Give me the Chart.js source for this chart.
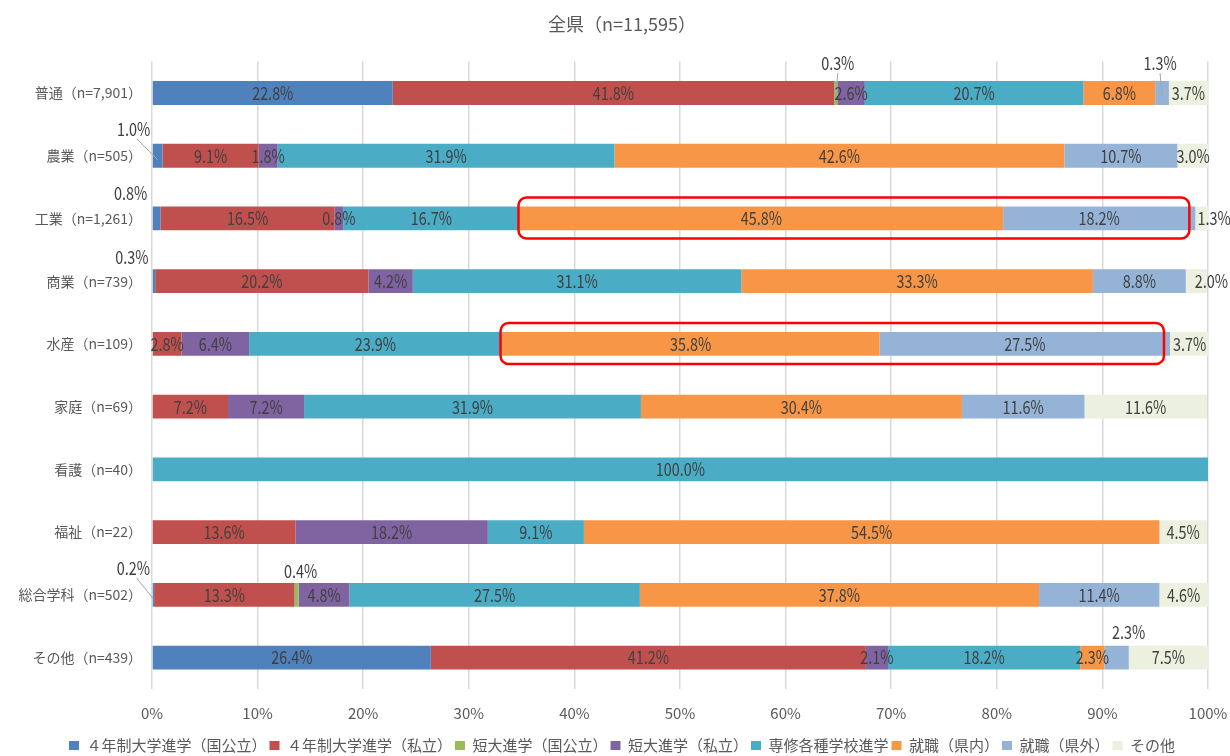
<!DOCTYPE html>
<html><head><meta charset="utf-8">
<script src="https://cdn.jsdelivr.net/npm/chart.js@4.4.1/dist/chart.umd.min.js"></script>
<style>html,body{margin:0;padding:0;background:#fff;} #wrap{width:1230px;height:756px;position:relative;}</style>
</head><body><div id="wrap"><canvas id="c"></canvas></div>
<script>
const chartTitle = '全県（n=11,595）';
const categories = ['普通（n=7,901）','農業（n=505）','工業（n=1,261）','商業（n=739）','水産（n=109）','家庭（n=69）','看護（n=40）','福祉（n=22）','総合学科（n=502）','その他（n=439）'];
const seriesNames = ['４年制大学進学（国公立）','４年制大学進学（私立）','短大進学（国公立）','短大進学（私立）','専修各種学校進学','就職（県内）','就職（県外）','その他'];
const univPublic   = [22.8, 1.0, 0.8, 0.3, 0, 0, 0, 0, 0.2, 26.4];
const univPrivate  = [41.8, 9.1, 16.5, 20.2, 2.8, 7.2, 0, 13.6, 13.3, 41.2];
const juniorPublic = [0.3, 0, 0, 0, 0, 0, 0, 0, 0.4, 0];
const juniorPrivate= [2.6, 1.8, 0.8, 4.2, 6.4, 7.2, 0, 18.2, 4.8, 2.1];
const vocational   = [20.7, 31.9, 16.7, 31.1, 23.9, 31.9, 100, 9.1, 27.5, 18.2];
const jobInPref    = [6.8, 42.6, 45.8, 33.3, 35.8, 30.4, 0, 54.5, 37.8, 2.3];
const jobOutPref   = [1.3, 10.7, 18.2, 8.8, 27.5, 11.6, 0, 0, 11.4, 2.3];
const otherPath    = [3.7, 3.0, 1.3, 2.0, 3.7, 11.6, 0, 4.5, 4.6, 7.5];
const xTickValues  = [0,10,20,30,40,50,60,70,80,90,100];

const seriesValues = [univPublic, univPrivate, juniorPublic, juniorPrivate, vocational, jobInPref, jobOutPref, otherPath];
const colors = ['#4F81BD','#C0504D','#9BBB59','#8064A2','#4BACC6','#F79646','#95B3D7','#EBF1DE'];

// label placement tweaks: key "row-series"
const callouts = {
  '0-2': {dx: 2, dy: -30, line: true},
  '0-6': {dx: -2, dy: -30, line: true},
  '1-0': {dx: -24, dy: -27, line: true, lx: 3},
  '2-0': {dx: -26, dy: -25},
  '3-0': {dx: -22, dy: -24},
  '8-0': {dx: -20, dy: -27, line: true, lx: 3},
  '8-2': {dx: 4, dy: -24},
  '9-6': {dx: 12, dy: -25}
};
const shifts = {'2-7': 12, '3-7': 15};
const highlights = [{row: 2, from: 5, to: 6}, {row: 4, from: 5, to: 6}];

Chart.defaults.font.family = "'Noto Sans CJK JP','Noto Sans',sans-serif";

function narrowText(ctx, txt, x, y) {
  ctx.save();
  ctx.translate(x, y);
  ctx.scale(0.8, 1);
  ctx.fillText(txt, 0, 0);
  ctx.restore();
}

const labelPlugin = {
  id: 'segLabels',
  afterDatasetsDraw(chart) {
    const ctx = chart.ctx;
    ctx.save();
    ctx.font = "18px 'Noto Sans CJK JP'";
    ctx.textAlign = 'center';
    ctx.textBaseline = 'middle';
    chart.data.datasets.forEach((ds, si) => {
      const meta = chart.getDatasetMeta(si);
      meta.data.forEach((el, ri) => {
        const v = ds.data[ri];
        if (!v) return;
        const cx = (el.x + el.base) / 2;
        const cy = el.y;
        const txt = v.toFixed(1) + '%';
        const co = callouts[ri + '-' + si];
        ctx.fillStyle = '#404040';
        if (co) {
          const tx = cx + co.dx, ty = cy + co.dy;
          if (co.line) {
            ctx.strokeStyle = '#A6A6A6';
            ctx.lineWidth = 1;
            ctx.beginPath();
            ctx.moveTo(tx + (co.lx || 0), ty + 10);
            ctx.lineTo(cx, cy + 4);
            ctx.stroke();
          }
          narrowText(ctx, txt, tx, ty);
        } else {
          narrowText(ctx, txt, cx + (shifts[ri + '-' + si] || 0), cy);
        }
      });
    });
    const xs = chart.scales.x;
    highlights.forEach(h => {
      let start = 0;
      for (let s = 0; s < h.from; s++) start += seriesValues[s][h.row];
      let end = start;
      for (let s = h.from; s <= h.to; s++) end += seriesValues[s][h.row];
      const el = chart.getDatasetMeta(0).data[h.row];
      const x1 = xs.getPixelForValue(start) - 1, x2 = xs.getPixelForValue(end) - 6;
      const y1 = el.y - 21, y2 = el.y + 20;
      ctx.strokeStyle = '#FF0000';
      ctx.lineWidth = 2.5;
      ctx.beginPath();
      ctx.roundRect(x1, y1, x2 - x1, y2 - y1, 8);
      ctx.stroke();
    });
    ctx.restore();
  }
};

new Chart(document.getElementById('c'), {
  type: 'bar',
  data: {
    labels: categories,
    datasets: seriesNames.map((n, i) => ({
      label: n,
      data: seriesValues[i],
      backgroundColor: colors[i],
      borderWidth: 0,
      barPercentage: 0.38,
      categoryPercentage: 1
    }))
  },
  options: {
    indexAxis: 'y',
    responsive: true,
    maintainAspectRatio: false,
    animation: false,
    layout: {padding: {top: 13, right: 0, left: 14, bottom: -7}},
    scales: {
      x: {
        stacked: true, min: 0, max: 100,
        afterBuildTicks(axis) { axis.ticks = xTickValues.map(v => ({value: v})); },
        afterFit(axis) { axis.height -= 2; axis.paddingRight = 22; axis.paddingLeft = 0; },
        ticks: {color: '#595959', font: {size: 15}, padding: 15, callback: v => v + '%'},
        grid: {color: '#D9D9D9', lineWidth: 1.5, drawTicks: false},
        border: {display: false}
      },
      y: {
        stacked: true,
        afterFit(axis) { axis.width = 138; },
        ticks: {color: '#595959', font: {size: 14}, padding: 10},
        grid: {display: false, drawTicks: false},
        border: {display: false}
      }
    },
    plugins: {
      title: {display: true, text: chartTitle, color: '#595959', font: {size: 18, weight: 'normal'}, padding: {top: 0, bottom: 27}},
      legend: {
        position: 'bottom',
        labels: {color: '#595959', font: {size: 15}, boxWidth: 10, boxHeight: 9, padding: 3}
      },
      tooltip: {enabled: false}
    }
  },
  plugins: [labelPlugin]
});
</script></body></html>
